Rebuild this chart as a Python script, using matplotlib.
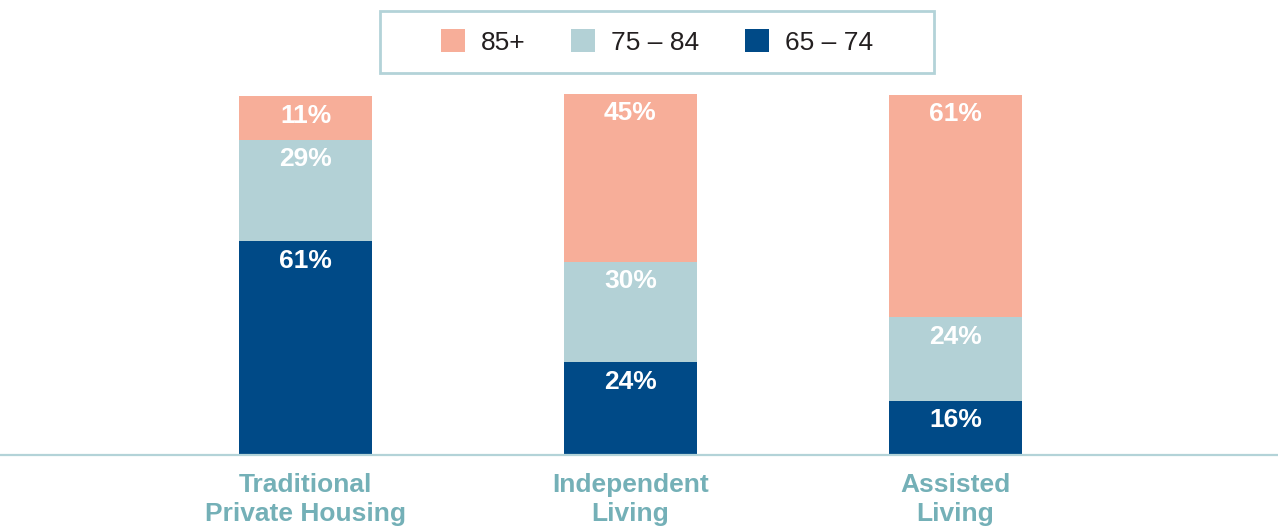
import numpy as np
import matplotlib
matplotlib.use("Agg")
import matplotlib.pyplot as plt
from matplotlib.patches import Rectangle

plt.rcParams['font.family'] = ['Liberation Sans', 'DejaVu Sans']

# categories and stacked segment sizes (share of residents, %)
categories = ["Traditional\nPrivate Housing", "Independent\nLiving", "Assisted\nLiving"]
age_65_74 = [59.4, 25.8, 15.0]
age_75_84 = [28.1, 27.8, 23.3]
age_85_up = [12.2, 46.7, 61.7]
# printed labels
lbl_65_74 = ["61%", "24%", "16%"]
lbl_75_84 = ["29%", "30%", "24%"]
lbl_85_up = ["11%", "45%", "61%"]
series_names = ["85+", "75 – 84", "65 – 74"]

NAVY = "#004A87"
LIGHT = "#B3D1D6"
SALMON = "#F7AE99"
TEAL_TXT = "#74B0B7"
LINE = "#B3D3D8"

W, H = 1278, 531
fig = plt.figure(figsize=(W / 100, H / 100), dpi=100)
# axes: baseline at y=455px, 100% = 360px, bars 325px apart starting at 305px
ax = fig.add_axes([0, (H - 455) / H, 1, 360 / H])
x = np.arange(len(categories))
ax.set_xlim(-305.5 / 325, (W - 305.5) / 325)
ax.set_ylim(0, 100)
bw = 133 / 325

b1 = ax.bar(x, age_65_74, bw, color=NAVY, clip_on=False)
bot2 = np.array(age_65_74)
b2 = ax.bar(x, age_75_84, bw, bottom=bot2, color=LIGHT, clip_on=False)
bot3 = bot2 + np.array(age_75_84)
b3 = ax.bar(x, age_85_up, bw, bottom=bot3, color=SALMON, clip_on=False)

# value labels near the top of each segment
for bottoms, vals, lbls in [(np.zeros(3), age_65_74, lbl_65_74),
                            (bot2, age_75_84, lbl_75_84),
                            (bot3, age_85_up, lbl_85_up)]:
    for i in range(len(x)):
        ax.annotate(lbls[i], xy=(x[i], bottoms[i] + vals[i]), xytext=(0, -14),
                    textcoords="offset points", ha="center", va="center",
                    color="white", fontsize=19, fontweight="bold",
                    annotation_clip=False)

# category labels under the baseline
for i, cat in enumerate(categories):
    ax.annotate(cat, xy=(x[i], 0), xytext=(0, -32), textcoords="offset points",
                ha="center", va="center", color=TEAL_TXT, fontsize=19,
                fontweight="bold", linespacing=1.28, annotation_clip=False)

for s in ["top", "left", "right"]:
    ax.spines[s].set_visible(False)
ax.spines["bottom"].set_color(LINE)
ax.spines["bottom"].set_linewidth(1.6)
ax.set_xticks([])
ax.set_yticks([])
ax.patch.set_visible(False)

# legend with a square-cornered frame
fig.legend([b3, b2, b1], series_names, loc="center", ncol=3,
           bbox_to_anchor=(657 / W, 1 - 42 / H), frameon=False,
           fontsize=19, handlelength=0.91, handleheight=0.91,
           handletextpad=0.6, columnspacing=1.74, labelcolor="#231F20")
fig.patches.append(Rectangle((380 / W, 1 - 73 / H), 554 / W, 62 / H,
                             transform=fig.transFigure, fill=False,
                             edgecolor=LINE, linewidth=2))

fig.savefig("out.png", dpi=100)
